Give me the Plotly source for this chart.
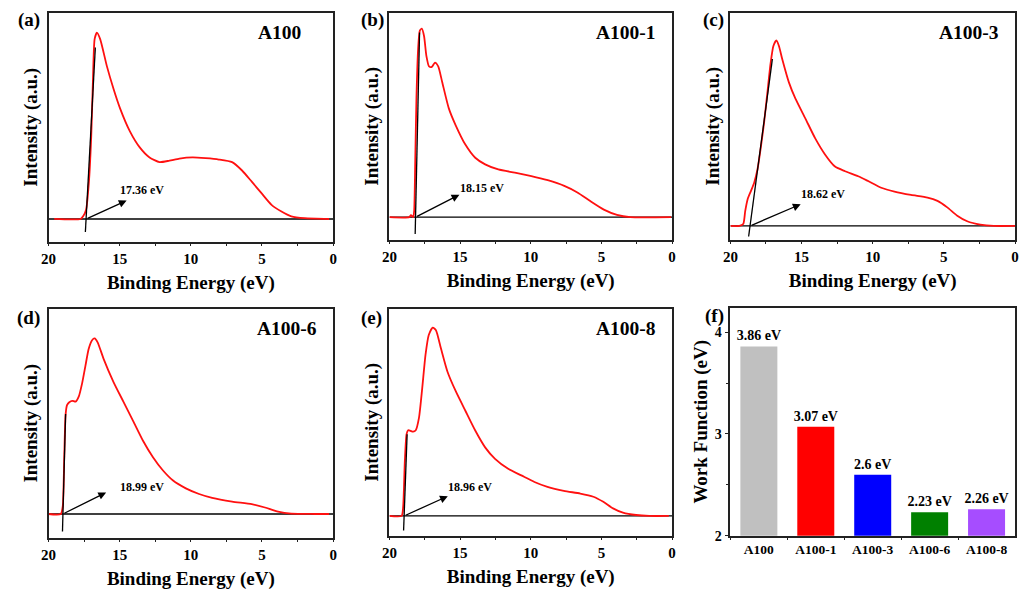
import plotly.graph_objects as go

# ---------------- data ----------------
a_energy = [19.6, 17.75, 17.57, 17.36, 17.17, 17.0, 16.88, 16.76, 16.6, 16.37, 15.9, 15.44, 14.98, 14.28, 13.59,
            12.9, 12.2, 11.5, 10.8, 9.88, 8.96, 8.03, 7.1, 6.4, 5.72, 5.02, 4.33, 3.63, 2.94, 2.0, 0.28]
a_int = [0, 0, 0.014, 0.05, 0.19, 0.44, 0.74, 0.965, 1.0, 0.965, 0.82, 0.70, 0.595, 0.47, 0.384,
         0.33, 0.305, 0.313, 0.324, 0.33, 0.326, 0.319, 0.305, 0.26, 0.2, 0.137, 0.076, 0.04, 0.014, 0.004, 0]

b_energy = [20, 18.6, 18.48, 18.32, 18.25, 18.18, 18.09, 17.97, 17.85, 17.71, 17.55, 17.39, 17.2, 17.0, 16.78,
            16.55, 16.27, 15.8, 15.33, 14.63, 13.93, 13.23, 12.3, 11.13, 9.96, 8.8, 7.63, 6.7, 5.77, 4.83, 3.9,
            2.96, 0.07]
b_int = [0, 0, 0.01, 0, 0.035, 0.28, 0.63, 0.895, 0.99, 1.0, 0.96, 0.857, 0.80, 0.797, 0.82,
         0.80, 0.717, 0.577, 0.49, 0.385, 0.315, 0.28, 0.253, 0.236, 0.218, 0.196, 0.166, 0.131, 0.084, 0.04, 0.012,
         0, 0]

c_energy = [20, 19.37, 19.1, 18.96, 18.79, 18.56, 18.33, 18.1, 17.87, 17.63, 17.4, 17.17, 16.98, 16.77, 16.59,
            16.36, 15.89, 15.43, 14.73, 14.04, 13.34, 12.65, 11.95, 11.02, 10.32, 9.4, 8.47, 7.31, 6.15, 5.45, 4.76,
            4.06, 3.36, 2.44, 1.5, 0]
c_int = [0, 0, 0.01, 0.08, 0.144, 0.188, 0.233, 0.304, 0.42, 0.56, 0.72, 0.88, 0.97, 1.0, 0.97,
         0.9, 0.774, 0.686, 0.579, 0.472, 0.384, 0.32, 0.295, 0.268, 0.242, 0.206, 0.185, 0.167, 0.153, 0.135, 0.1,
         0.055, 0.025, 0.007, 0, 0]

d_energy = [20, 19.14, 19.0, 18.9, 18.8, 18.7, 18.54, 18.33, 18.1, 17.87, 17.64, 17.4, 17.18, 16.94, 16.76,
            16.55, 16.13, 15.44, 14.74, 14.05, 13.36, 12.66, 11.97, 11.27, 10.35, 9.42, 8.5, 7.1, 5.72, 4.79, 3.87,
            2.94, 1.32, 0.28]
d_int = [0, 0, 0.043, 0.305, 0.566, 0.62, 0.637, 0.645, 0.64, 0.67, 0.744, 0.847, 0.94, 0.99, 1.0,
         0.978, 0.884, 0.753, 0.64, 0.529, 0.417, 0.323, 0.249, 0.192, 0.146, 0.114, 0.092, 0.071, 0.056, 0.037, 0.013,
         0.002, 0, 0]

e_energy = [20, 19.14, 19.03, 18.91, 18.79, 18.68, 18.52, 18.33, 18.14, 17.91, 17.68, 17.45, 17.22, 16.94, 16.71,
            16.36, 15.9, 15.31, 14.62, 13.92, 13.23, 12.53, 11.6, 10.67, 9.74, 8.82, 7.66, 6.5, 5.57, 4.87, 4.18,
            3.48, 2.55, 1.62, 0.23]
e_int = [0, 0, 0.049, 0.294, 0.434, 0.455, 0.452, 0.447, 0.455, 0.522, 0.68, 0.855, 0.96, 1.0, 0.986,
         0.89, 0.767, 0.662, 0.557, 0.452, 0.364, 0.303, 0.25, 0.215, 0.18, 0.154, 0.133, 0.119, 0.102, 0.075, 0.04,
         0.018, 0.005, 0, 0]

# tangent (onset) lines: energies and intensities of the two ends
a_tan_energy, a_tan_int = [17.41, 16.71], [-0.07, 0.92]
b_tan_energy, b_tan_int = [18.18, 17.87], [-0.09, 0.98]
c_tan_energy, c_tan_int = [18.72, 17.05], [-0.057, 0.90]
d_tan_energy, d_tan_int = [19.02, 18.80], [-0.10, 0.57]
e_tan_energy, e_tan_int = [19.00, 18.75], [-0.077, 0.434]

sample_names = ["A100", "A100-1", "A100-3", "A100-6", "A100-8"]
onset_values = [17.36, 18.15, 18.62, 18.99, 18.96]
onset_labels = ["17.36 eV", "18.15 eV", "18.62 eV", "18.99 eV", "18.96 eV"]
arrow_head_energy = [14.51, 15.05, 15.06, 15.95, 15.87]
arrow_head_int = [0.099, 0.119, 0.117, 0.123, 0.105]
label_energy = [15.14, 15.16, 15.17, 15.14, 15.99]
label_int = [0.155, 0.152, 0.17, 0.155, 0.154]

work_function = [3.86, 3.07, 2.6, 2.23, 2.26]
wf_labels = ["3.86 eV", "3.07 eV", "2.6 eV", "2.23 eV", "2.26 eV"]
bar_colors = ["#c0c0c0", "#ff0000", "#0000ff", "#008000", "#a64dff"]

panel_letters = ["(a)", "(b)", "(c)", "(d)", "(e)", "(f)"]
energy_ticks = [20, 15, 10, 5, 0]

# ---------------- layout geometry ----------------
W, H = 1021, 596
FONT = "Liberation Serif"
boxes = [  # left, right, top, bottom (px)
    (41, 329, 13, 245),
    (386, 672, 13, 243),
    (731, 1019, 13, 243),
    (41, 329, 313, 545),
    (386, 672, 313, 543),
    (731, 1019, 312, 543),
]
y_ranges = [(-0.122, 1.106), (-0.120, 1.084), (-0.0745, 1.149), (-0.135, 1.169), (-0.105, 1.0995)]
name_pos = [(299, 33), (658, 33), (1005, 33), (315, 333), (658, 333)]
letter_pos = [(21, 20), (369, 20), (714, 20), (21, 322), (368, 322), (715, 320)]


def px(x):
    return x / W


def py(y):
    return 1 - y / H


curves = [(a_energy, a_int), (b_energy, b_int), (c_energy, c_int), (d_energy, d_int), (e_energy, e_int)]
tangents = [(a_tan_energy, a_tan_int), (b_tan_energy, b_tan_int), (c_tan_energy, c_tan_int),
            (d_tan_energy, d_tan_int), (e_tan_energy, e_tan_int)]

fig = go.Figure()
annotations = []
layout = {}

axis_line = dict(showline=True, linecolor="#222", linewidth=1.5, mirror=True, showgrid=False, zeroline=False)
tickfont = dict(family=FONT, size=15, color="black", weight="bold")
titlefont = dict(family=FONT, size=19, color="black", weight="bold")

for i in range(5):
    xa = f"x{i + 1}" if i else "x"
    ya = f"y{i + 1}" if i else "y"
    l, r, t, b = boxes[i]
    # baseline
    fig.add_trace(go.Scatter(x=[energy_ticks[0], energy_ticks[-1]], y=[0, 0], mode="lines",
                             line=dict(color="black", width=1.3), xaxis=xa, yaxis=ya, showlegend=False))
    # spectrum
    ex, iy = curves[i]
    fig.add_trace(go.Scatter(x=ex, y=iy, mode="lines", line=dict(color="#ff1010", width=1.8, shape="spline",
                                                                  smoothing=0.6),
                             xaxis=xa, yaxis=ya, showlegend=False))
    # tangent
    tx, ty = tangents[i]
    fig.add_trace(go.Scatter(x=tx, y=ty, mode="lines", line=dict(color="black", width=1.3),
                             xaxis=xa, yaxis=ya, showlegend=False))

    layout[f"xaxis{i + 1}" if i else "xaxis"] = dict(
        domain=[px(l), px(r)], anchor=ya, range=[20, 0], tickvals=energy_ticks,
        ticks="outside", ticklen=3, tickwidth=1.3, tickcolor="#222",
        minor=dict(tickvals=[17.5, 12.5, 7.5, 2.5], ticks="outside", ticklen=3, tickwidth=1.3, tickcolor="#222"),
        tickfont=tickfont, title=dict(text="Binding Energy (eV)", font=titlefont, standoff=9), **axis_line)
    layout[f"yaxis{i + 1}" if i else "yaxis"] = dict(
        domain=[py(b), py(t)], anchor=xa, range=list(y_ranges[i]), showticklabels=False, ticks="",
        title=dict(text="Intensity (a.u.)", font=titlefont, standoff=4), **axis_line)

    xref = xa
    yref = ya
    annotations.append(dict(x=arrow_head_energy[i], y=arrow_head_int[i], ax=onset_values[i], ay=0,
                            xref=xref, yref=yref, axref=xref, ayref=yref, showarrow=True,
                            arrowhead=2, arrowsize=1.2, arrowwidth=1.3, arrowcolor="black", text=""))
    annotations.append(dict(x=label_energy[i], y=label_int[i], xref=xref, yref=yref, xanchor="left",
                            yanchor="middle", showarrow=False, text=onset_labels[i],
                            font=dict(family=FONT, size=12, color="black", weight="bold")))
    nx, ny = name_pos[i]
    annotations.append(dict(x=px(nx), y=py(ny), xref="paper", yref="paper", xanchor="right", yanchor="middle",
                            showarrow=False, text=sample_names[i],
                            font=dict(family=FONT, size=19.5, color="black", weight="bold")))

# bar panel
l, r, t, b = boxes[5]
fig.add_trace(go.Bar(x=sample_names, y=work_function, marker=dict(color=bar_colors, line=dict(width=0)),
                     text=wf_labels, textposition="outside", constraintext="none", cliponaxis=False,
                     textfont=dict(family=FONT, size=14, color="black", weight="bold"),
                     xaxis="x6", yaxis="y6", showlegend=False, width=0.65))
layout["xaxis6"] = dict(domain=[px(l), px(r)], anchor="y6", type="category", range=[-0.5, 4.5],
                        tickson="boundaries", ticks="outside", ticklen=3, tickwidth=1.3, tickcolor="#222",
                        tickfont=dict(family=FONT, size=13.5, color="black", weight="bold"), **axis_line)
layout["yaxis6"] = dict(domain=[py(b), py(t)], anchor="x6", range=[2, 4.24], tickvals=[2, 3, 4],
                        ticks="outside", ticklen=4, tickwidth=1.3, tickcolor="#222",
                        minor=dict(tickvals=[2.5, 3.5], ticks="outside", ticklen=3, tickwidth=1.3, tickcolor="#222"),
                        tickfont=dict(family=FONT, size=14, color="black", weight="bold"),
                        title=dict(text="Work Function (eV)", font=titlefont, standoff=2), **axis_line)

for i, letter in enumerate(panel_letters):
    lx, ly = letter_pos[i]
    annotations.append(dict(x=px(lx), y=py(ly), xref="paper", yref="paper", xanchor="center", yanchor="middle",
                            showarrow=False, text=letter,
                            font=dict(family=FONT, size=19, color="black", weight="bold")))

fig.update_layout(width=W, height=H, margin=dict(l=0, r=0, t=0, b=0), paper_bgcolor="white",
                  plot_bgcolor="white", annotations=annotations, bargap=0.35, **layout)
fig.write_html("out.html")
